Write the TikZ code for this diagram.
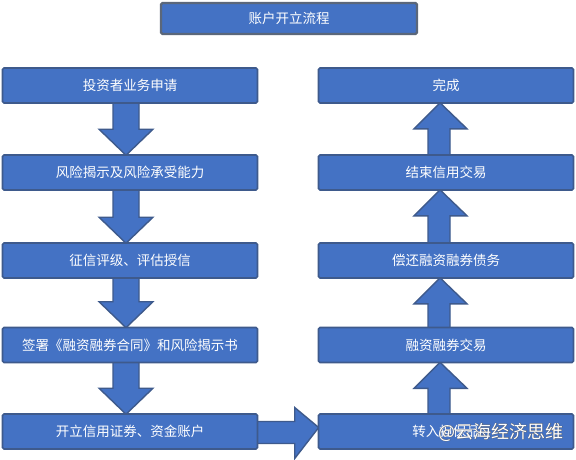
\documentclass[tikz,border=0pt]{standalone}
\usepackage{fontspec}
\newfontfamily\cjk{Noto Sans CJK SC}
\newfontfamily\cjkfat[FakeBold=2.5]{Noto Sans CJK SC}
\usetikzlibrary{calc,backgrounds}
\definecolor{boxblue}{HTML}{4472C4}
\definecolor{bdr}{HTML}{3E5A8C}
\definecolor{ttlbdr}{HTML}{5B677A}
\definecolor{wmshadow}{HTML}{5A5F6B}
\tikzset{
  box/.style={draw=bdr, line width=1.6pt, fill=boxblue, rounded corners=1.5pt,
    text=white, font=\cjk\fontsize{13.5}{15}\selectfont,
    minimum width=255pt, minimum height=35pt, inner sep=0pt},
  ttl/.style={box, draw=ttlbdr, line width=2.4pt, minimum width=256pt, minimum height=31pt},
  blk/.style={draw=bdr, line width=1.4pt, fill=boxblue, line join=miter},
  wm/.style={inner sep=0pt, anchor=west}
}
\begin{document}
\begin{tikzpicture}[x=1pt,y=-1pt]
\useasboundingbox (0,0) rectangle (576,459);
% title
\node[ttl] (t) at (289,18.5) {账户开立流程};
% left column
\node[box] (l1) at (130,85.5) {投资者业务申请};
\node[box] (l2) at (130,172.5) {风险揭示及风险承受能力};
\node[box] (l3) at (130,260.5) {征信评级、评估授信};
\node[box] (l4) at (130,345) {签署《融资融券合同》和风险揭示书};
\node[box] (l5) at (130,431.5) {开立信用证券、资金账户};
% right column
\node[box] (r1) at (446,85.5) {完成};
\node[box] (r2) at (446,172.5) {结束信用交易};
\node[box] (r3) at (446,260.5) {偿还融资融券债务};
\node[box] (r4) at (446,345) {融资融券交易};
\node[box] (r5) at (446,431.5) {转入担保品};
\begin{scope}[on background layer]
\fill[white] (0,0) rectangle (576,459);
% down arrows (left)
\foreach \a/\b in {l1/l2,l2/l3,l3/l4,l4/l5}{
  \draw[blk] ($(\a.south)+(-17,-2)$) -- ($(\b.north)+(-17,-25)$) -- ($(\b.north)+(-31,-25)$)
    -- ($(\b.north)+(-4,1)$) -- ($(\b.north)+(23,-25)$) -- ($(\b.north)+(9,-25)$)
    -- ($(\a.south)+(9,-2)$) -- cycle;
}
% up arrows (right)
\foreach \a/\b in {r5/r4,r4/r3,r3/r2,r2/r1}{
  \draw[blk] ($(\a.north)+(-18,2)$) -- ($(\b.south)+(-18,25)$) -- ($(\b.south)+(-32,25)$)
    -- ($(\b.south)+(-6,-1)$) -- ($(\b.south)+(21,25)$) -- ($(\b.south)+(4,25)$)
    -- ($(\a.north)+(4,2)$) -- cycle;
}
% right arrow
\draw[blk] ($(l5.east)+(-2,-10)$) -- ($(r5.west)+(-23,-10)$) -- ($(r5.west)+(-23,-24)$)
  -- ($(r5.west)+(1,-4)$) -- ($(r5.west)+(-23,27)$) -- ($(r5.west)+(-23,12)$)
  -- ($(l5.east)+(-2,12)$) -- cycle;
\end{scope}
% watermark
\coordinate (wmp) at (438,432);
\node[wm, text=wmshadow, font=\cjkfat\fontsize{18}{20}\selectfont] (wms) at (wmp) {@云海经济思维};
\node[wm, text=white, font=\cjk\fontsize{18}{20}\selectfont] (wmt) at (wmp) {@云海经济思维};
\end{tikzpicture}
\end{document}
